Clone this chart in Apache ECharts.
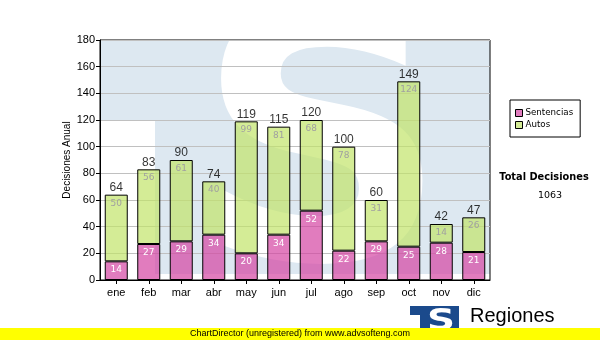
<!DOCTYPE html>
<html>
<head>
<meta charset="utf-8">
<script src="https://cdn.jsdelivr.net/npm/echarts@6/dist/echarts.min.js"></script>
<style>
  html, body { margin: 0; padding: 0; background: #fff; }
  #chart { width: 600px; height: 340px; }
</style>
</head>
<body>
<div id="chart"></div>
<script>
// Monthly decisions, split by type
const months = ['ene', 'feb', 'mar', 'abr', 'may', 'jun', 'jul', 'ago', 'sep', 'oct', 'nov', 'dic'];
const sentencias = [14, 27, 29, 34, 20, 34, 52, 22, 29, 25, 28, 21];
const autos = [50, 56, 61, 40, 99, 81, 68, 78, 31, 124, 14, 26];
const yTicks = [0, 20, 40, 60, 80, 100, 120, 140, 160, 180];

const totals = months.map((m, i) => sentencias[i] + autos[i]);
const grandTotal = totals.reduce((a, b) => a + b, 0);

const AXIS_FONT = 'Liberation Sans, Arial, sans-serif';
const SMALL_FONT = 'DejaVu Sans, Verdana, sans-serif';

const chart = echarts.init(document.getElementById('chart'), null, { renderer: 'canvas' });

const option = {
  animation: false,
  backgroundColor: '#ffffff',
  grid: {
    left: 100, right: 110, top: 40, bottom: 60,
    show: true, borderColor: '#000', borderWidth: 1, backgroundColor: 'transparent'
  },
  legend: {
    data: ['Sentencias', 'Autos'],
    orient: 'vertical',
    left: 510, top: 100,
    backgroundColor: '#fff',
    borderColor: '#000', borderWidth: 1,
    padding: [8, 7, 7, 5],
    itemWidth: 7, itemHeight: 7, itemGap: 2,
    icon: 'rect',
    textStyle: { fontFamily: SMALL_FONT, fontSize: 8.7, color: '#000', lineHeight: 10, padding: [0, 0, 0, -2] },
    itemStyle: { borderColor: '#000', borderWidth: 1 }
  },
  xAxis: {
    type: 'category',
    data: months,
    axisLine: { show: true, lineStyle: { color: '#000', width: 1 } },
    axisTick: { show: true, alignWithLabel: true, length: 4, lineStyle: { color: '#000' } },
    axisLabel: { color: '#000', fontFamily: AXIS_FONT, fontSize: 11, margin: 7 },
    splitLine: { show: false }
  },
  yAxis: {
    type: 'value',
    min: yTicks[0], max: yTicks[yTicks.length - 1], interval: 20,
    name: 'Decisiones Anual',
    nameLocation: 'middle',
    nameGap: 28,
    nameMoveOverlap: false,
    nameTextStyle: { color: '#000', fontFamily: AXIS_FONT, fontSize: 10 },
    axisLine: { show: true, lineStyle: { color: '#000', width: 1 } },
    axisTick: { show: true, length: 4, lineStyle: { color: '#000' } },
    axisLabel: { color: '#000', fontFamily: AXIS_FONT, fontSize: 11, margin: 5 },
    splitLine: { show: true, lineStyle: { color: '#c0c0c0', width: 1 } }
  },
  series: [
    {
      name: 'Sentencias',
      type: 'bar',
      stack: 'd',
      data: sentencias,
      barWidth: 23,
      itemStyle: { color: 'rgba(212,69,162,0.7)', borderColor: '#000', borderWidth: 1 },
      label: {
        show: true, position: 'insideTop', distance: 4,
        color: '#fff', fontFamily: SMALL_FONT, fontSize: 9
      }
    },
    {
      name: 'Autos',
      type: 'bar',
      stack: 'd',
      data: autos,
      barWidth: 23,
      itemStyle: { color: 'rgba(194,228,105,0.7)', borderColor: '#000', borderWidth: 1 },
      label: {
        show: true, position: 'insideTop', distance: 4,
        color: '#a0a0a0', fontFamily: SMALL_FONT, fontSize: 9
      }
    },
    {
      name: 'Total',
      type: 'scatter',
      data: totals,
      symbolSize: 0,
      silent: true,
      label: {
        show: true, position: 'top', distance: 1,
        color: '#000', fontFamily: AXIS_FONT, fontSize: 12
      }
    }
  ],
  graphic: [
    // light blue watermark panel behind the plot
    {
      type: 'polygon', z: -10, silent: true,
      shape: { points: [[101, 41], [490, 41], [490, 274], [155, 274], [155, 121], [101, 121]] },
      style: { fill: '#dde8f1' }
    },
    {
      type: 'text', z: -9, silent: true,
      x: 322, y: 168,
      style: {
        text: 'S', fill: '#ffffff',
        font: 'bold 350px "DejaVu Sans", sans-serif',
        align: 'center', verticalAlign: 'middle'
      }
    },
    // totals box on the right
    {
      type: 'text', x: 544, y: 177,
      style: {
        text: 'Total Decisiones', fill: '#000',
        font: 'bold 9.8px "DejaVu Sans", sans-serif',
        align: 'center', verticalAlign: 'middle'
      }
    },
    {
      type: 'text', x: 550, y: 196,
      style: {
        text: String(grandTotal), fill: '#000',
        font: '9.5px "DejaVu Sans", sans-serif',
        align: 'center', verticalAlign: 'middle'
      }
    },
    // logo
    {
      type: 'polygon', silent: true,
      shape: { points: [[410, 306], [459, 306], [459, 334], [420, 334], [420, 315], [410, 315]] },
      style: { fill: '#1b4a8c' }
    },
    {
      type: 'text', x: 441, y: 322, scaleX: 1.3,
      style: {
        text: 'S', fill: '#fff',
        font: 'bold 30px "DejaVu Sans", sans-serif',
        align: 'center', verticalAlign: 'middle'
      }
    },
    {
      type: 'text', x: 470, y: 316,
      style: {
        text: 'Regiones', fill: '#000',
        font: '20px "Liberation Sans", Arial, sans-serif',
        align: 'left', verticalAlign: 'middle'
      }
    },
    // footer strip
    {
      type: 'rect', z: 50,
      shape: { x: 0, y: 328, width: 600, height: 12 },
      style: { fill: '#ffff00' }
    },
    {
      type: 'text', z: 51, x: 300, y: 334,
      style: {
        text: 'ChartDirector (unregistered) from www.advsofteng.com', fill: '#000',
        font: '9px "Liberation Sans", Arial, sans-serif',
        align: 'center', verticalAlign: 'middle'
      }
    }
  ]
};

chart.setOption(option);
</script>
</body>
</html>
